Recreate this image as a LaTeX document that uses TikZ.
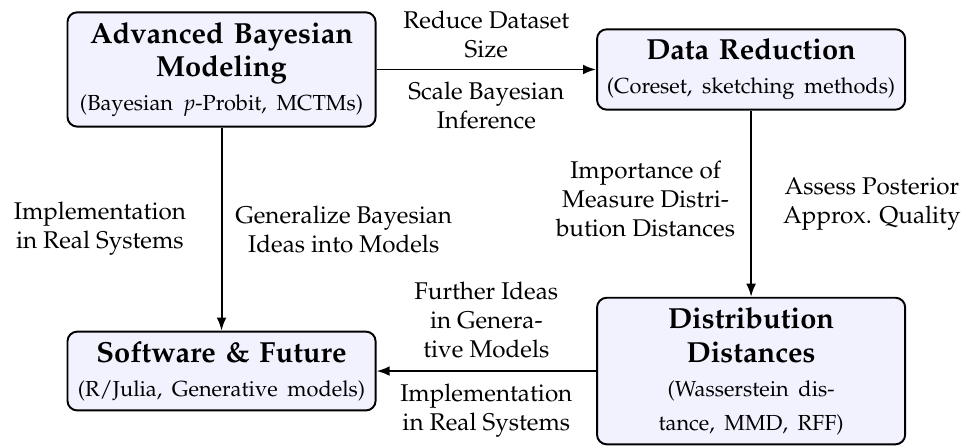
\documentclass[tikz,border=0pt]{standalone}
\usepackage[T1]{fontenc}
\usepackage{mathpazo}
\usetikzlibrary{arrows.meta}

\tikzset{
  block/.style={draw, thick, rounded corners, fill=blue!5, font=\large,
    text width=4.2cm, inner xsep=3.9pt, inner ysep=4pt, align=center},
  flow/.style={thick, -{Latex[length=1.9mm]}},
  note/.style={align=center},
}

\begin{document}
\begin{tikzpicture}
% frame
\useasboundingbox (0,0) rectangle (14.1,-6.463);

% blocks
\node[block] (bayes) at (3.217,-1.009)
  {\textbf{Advanced Bayesian Modeling}\\{\small (Bayesian $p$-Probit, MCTMs)}};
\node[block] (reduce) at (10.907,-1.009)
  {\textbf{Data Reduction}\\{\small (Coreset, sketching methods)}};
\node[block] (soft) at (3.217,-5.388)
  {\textbf{Software \& Future}\\{\small (R/Julia, Generative models)}};
\node[block] (dist) at (10.907,-5.388)
  {\textbf{Distribution Distances}\\{\small (Wasserstein distance, MMD, RFF)}};

% links
\draw[flow] (bayes) -- node[note, above=1.1pt] (sizeA) {Reduce Dataset\\Size}
  node[note, below=1.4pt] (scaleB) {Scale Bayesian\\Inference} (reduce);
\draw[flow] (reduce) -- node[note, left=2.9pt, yshift=2pt] (measA) {Importance of\\Measure Distri-\\bution Distances}
  node[note, right=9.5pt] (postB) {Assess Posterior\\Approx. Quality} (dist);
\draw[flow] (bayes) -- node[note, left=11pt] (implA) {Implementation\\in Real Systems}
  node[note, right=2pt] (genB) {Generalize Bayesian\\Ideas into Models} (soft);
\draw[flow] (dist) -- node[note, above=1.6pt] (ideaA) {Further Ideas\\in Genera-\\tive Models}
  node[note, below=1.8pt] (implB) {Implementation\\in Real Systems} (soft);

\end{tikzpicture}
\end{document}
